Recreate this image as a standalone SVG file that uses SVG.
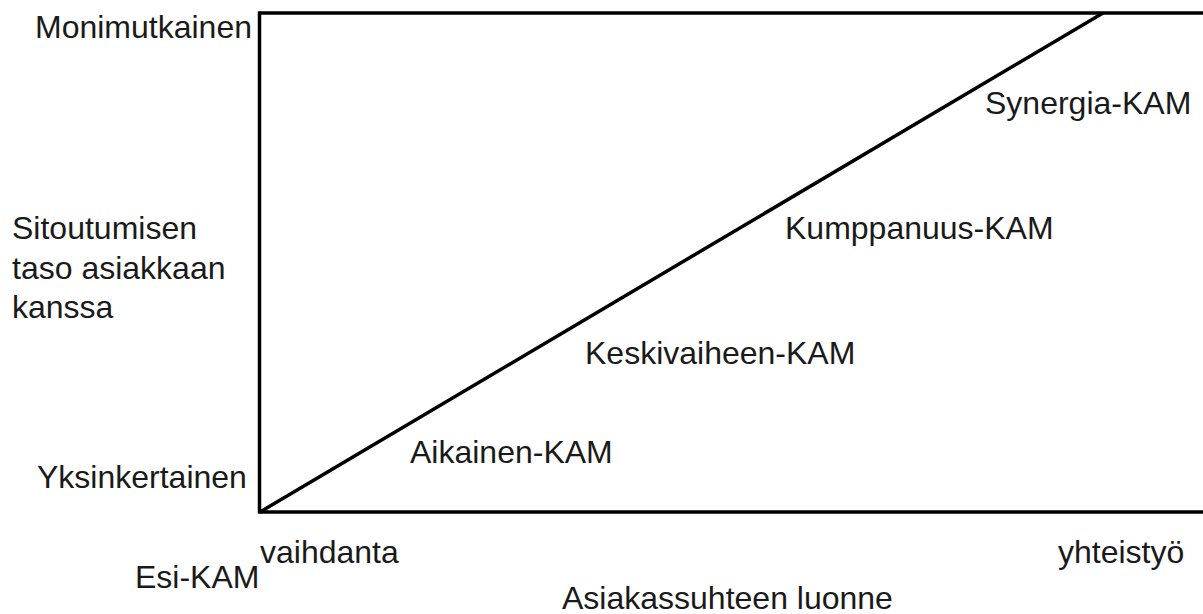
<svg xmlns="http://www.w3.org/2000/svg" width="1203" height="614" viewBox="0 0 1203 614">
<style>
text{font-family:"Liberation Sans",Arial,sans-serif;font-size:32px;fill:#1a1a1a}
.frame{fill:none;stroke:#000;stroke-width:3.5}
.diag{stroke:#000;stroke-width:3.5;fill:none}
</style>
<rect width="1203" height="614" fill="#fff"/>
<g id="frame"><rect class="frame" x="259.5" y="13" width="960" height="499"/></g>
<g id="connectors"><line class="diag" x1="260" y1="512" x2="1103" y2="13"/></g>
<g id="axis-y-top"><text x="35" y="38">Monimutkainen</text></g>
<g id="axis-y-bottom"><text x="37" y="488">Yksinkertainen</text></g>
<g id="axis-y-title"><text x="12" y="239">Sitoutumisen</text><text x="12" y="279">taso asiakkaan</text><text x="12" y="318">kanssa</text></g>
<g id="axis-x-left"><text x="260" y="563">vaihdanta</text></g>
<g id="axis-x-right"><text x="1058" y="563">yhteistyö</text></g>
<g id="axis-x-title"><text x="562" y="609">Asiakassuhteen luonne</text></g>
<g id="esi-kam"><text x="135" y="588">Esi-KAM</text></g>
<g id="aikainen-kam"><text x="410" y="463">Aikainen-KAM</text></g>
<g id="keskivaiheen-kam"><text x="585" y="364">Keskivaiheen-KAM</text></g>
<g id="kumppanuus-kam"><text x="785" y="239">Kumppanuus-KAM</text></g>
<g id="synergia-kam"><text x="985" y="114">Synergia-KAM</text></g>
</svg>
